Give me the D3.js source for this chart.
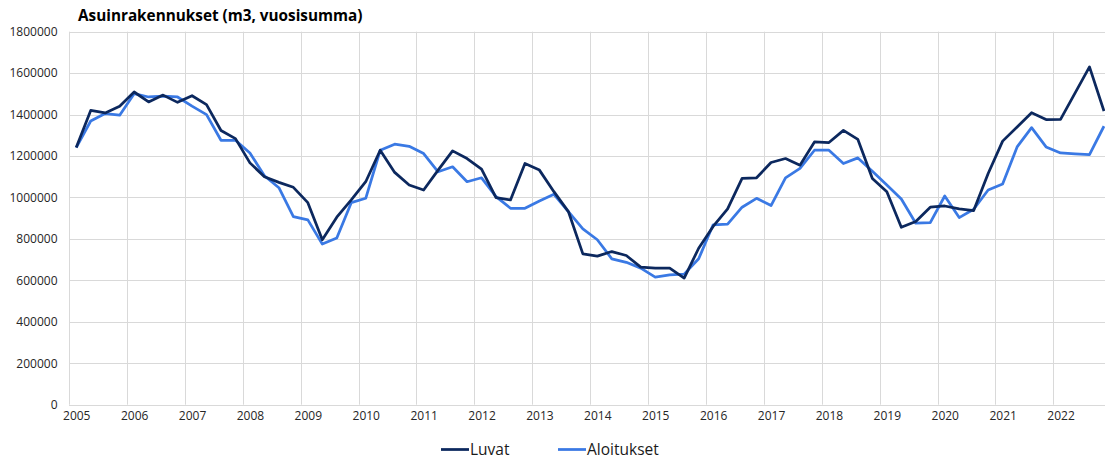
<!DOCTYPE html>
<html>
<head>
<meta charset="utf-8">
<script src="https://cdn.jsdelivr.net/npm/d3@7"></script>
<style>
  body { margin: 0; background: #fff; }
  svg { display: block; font-family: "Open Sans", "Noto Sans", sans-serif; }
</style>
</head>
<body>
<svg id="chart" width="1105" height="459"></svg>
<script>
// vuodet, neljännes kerrallaan (Q1..Q4)
let years = [2005, 2006, 2007, 2008, 2009, 2010, 2011, 2012, 2013,
  2014, 2015, 2016, 2017, 2018, 2019, 2020, 2021, 2022];

let yTicks = [0, 200000, 400000, 600000, 800000, 1000000, 1200000, 1400000, 1600000, 1800000];

let luvat = [
  1241000, 1420000, 1408000, 1440000,
  1509000, 1461000, 1494000, 1459000,
  1491000, 1448000, 1323000, 1284000,
  1167000, 1100000, 1073000, 1049000,
  975000, 796000, 905000, 988000,
  1076000, 1228000, 1121000, 1060000,
  1036000, 1132000, 1225000, 1188000,
  1137000, 999000, 988000, 1164000,
  1132000, 1028000, 932000, 728000,
  717000, 739000, 720000, 664000,
  659000, 659000, 611000, 755000,
  860000, 945000, 1092000, 1095000,
  1169000, 1188000, 1156000, 1268000,
  1265000, 1324000, 1280000, 1092000,
  1028000, 856000, 884000, 953000,
  959000, 945000, 937000, 1116000,
  1272000, 1340000, 1409000, 1376000,
  1377000, 1504000, 1630000, 1417000
];

let aloitukset = [
  1241000, 1369000, 1405000, 1397000,
  1501000, 1485000, 1489000, 1485000,
  1441000, 1400000, 1276000, 1276000,
  1215000, 1105000, 1047000, 908000,
  892000, 775000, 804000, 975000,
  996000, 1228000, 1257000, 1247000,
  1212000, 1124000, 1148000, 1076000,
  1095000, 1004000, 948000, 948000,
  983000, 1015000, 932000, 848000,
  796000, 704000, 687000, 659000,
  616000, 627000, 630000, 704000,
  868000, 871000, 953000, 996000,
  961000, 1095000, 1140000, 1228000,
  1228000, 1164000, 1191000, 1127000,
  1060000, 993000, 876000, 879000,
  1007000, 903000, 943000, 1036000,
  1065000, 1244000, 1337000, 1244000,
  1215000, 1211000, 1207000, 1344000
];

let darkBlue = '#0c285e';
let lightBlue = '#3a79e4';
let gridColor = '#d9d9d9';

let svg = d3.select('#chart');
let nQ = years.length * 4;

let x = d3.scaleLinear().domain([0, nQ]).range([69, 1111.2]);
let y = d3.scaleLinear().domain([0, 1800000]).range([404.7, 31.7]);

// horisontaaliset apuviivat
svg.append('g').selectAll('line').data(yTicks).enter().append('line')
  .attr('x1', x(0))
  .attr('x2', x(nQ))
  .attr('y1', (d) => Math.round(y(d)) + 0.5)
  .attr('y2', (d) => Math.round(y(d)) + 0.5)
  .attr('stroke', gridColor)
  .attr('stroke-width', 1);

// pystyviivat vuosien rajoilla
svg.append('g').selectAll('line').data(d3.range(0, nQ + 1, 4)).enter().append('line')
  .attr('x1', (d) => Math.round(x(d)) + 0.5)
  .attr('x2', (d) => Math.round(x(d)) + 0.5)
  .attr('y1', y(1800000))
  .attr('y2', y(0))
  .attr('stroke', gridColor)
  .attr('stroke-width', 1);

// y-akselin tekstit
let yAxis = d3.axisLeft(y).tickValues(yTicks).tickSize(0).tickPadding(0)
  .tickFormat(d3.format('d'));
svg.append('g')
  .attr('transform', 'translate(57.5,0)')
  .call(yAxis)
  .call((g) => g.select('.domain').remove())
  .selectAll('text')
  .attr('font-family', '"Open Sans", sans-serif')
  .attr('font-size', 12)
  .attr('fill', '#262626');

// x-akselin tekstit (vuoden ensimmäinen neljännes)
let xAxis = d3.axisBottom(x).tickValues(years.map((d, i) => i * 4 + 0.5))
  .tickSize(0).tickPadding(0)
  .tickFormat((d) => years[Math.floor(d / 4)]);
svg.append('g')
  .attr('transform', 'translate(0,411)')
  .call(xAxis)
  .call((g) => g.select('.domain').remove())
  .selectAll('text')
  .attr('font-family', '"Open Sans", sans-serif')
  .attr('font-size', 12)
  .attr('fill', '#262626');

let line = d3.line()
  .x((d, i) => x(i + 0.5))
  .y((d) => y(d));

svg.append('path')
  .datum(aloitukset)
  .attr('d', line)
  .attr('fill', 'none')
  .attr('stroke', lightBlue)
  .attr('stroke-width', 2.75)
  .attr('stroke-linejoin', 'round');

svg.append('path')
  .datum(luvat)
  .attr('d', line)
  .attr('fill', 'none')
  .attr('stroke', darkBlue)
  .attr('stroke-width', 2.75)
  .attr('stroke-linejoin', 'round');

// otsikko
svg.append('text')
  .attr('x', 78)
  .attr('y', 21)
  .attr('font-size', 15.3)
  .attr('font-weight', 700)
  .attr('fill', '#000')
  .text('Asuinrakennukset (m3, vuosisumma)');

// selite
let legend = [
  {name: 'Luvat', color: darkBlue, x: 441},
  {name: 'Aloitukset', color: lightBlue, x: 558}
];
let lg = svg.append('g').selectAll('g').data(legend).enter().append('g');
lg.append('line')
  .attr('x1', (d) => d.x)
  .attr('x2', (d) => d.x + 28)
  .attr('y1', 449.5)
  .attr('y2', 449.5)
  .attr('stroke', (d) => d.color)
  .attr('stroke-width', 2.75);
lg.append('text')
  .attr('x', (d) => d.x + 29)
  .attr('y', 454.5)
  .attr('font-size', 15.5)
  .attr('fill', '#1a1a1a')
  .text((d) => d.name);
</script>
</body>
</html>
